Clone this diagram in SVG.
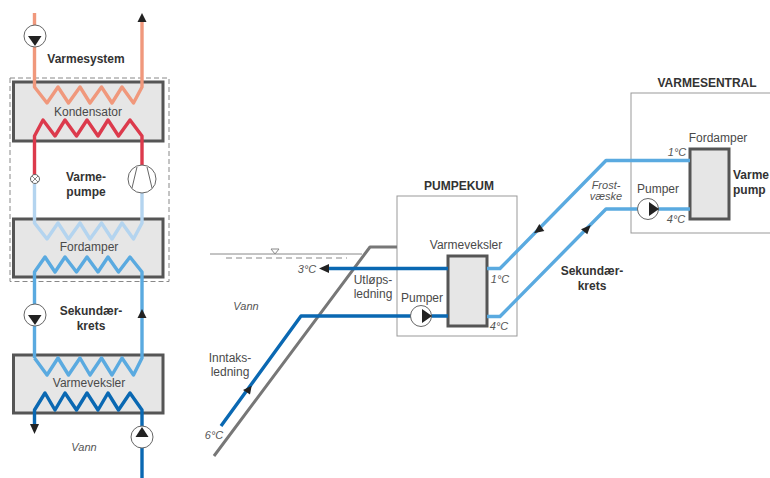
<svg xmlns="http://www.w3.org/2000/svg" width="770" height="478" viewBox="0 0 770 478">
<style>
text{font-family:"Liberation Sans",Arial,sans-serif;font-size:12px;fill:#4a4a4a}
.c{text-anchor:middle}
.b{font-weight:bold;fill:#333}
.i{font-style:italic;font-size:11px;fill:#555}
.hx{fill:#e6e6e6;stroke:#555;stroke-width:3}
.room{fill:#fff;stroke:#999;stroke-width:1}
.p{fill:none;stroke-width:3.4;stroke-linejoin:round}
.salmon{stroke:#f0987c}.red{stroke:#dc3a4c}.pale{stroke:#b4d4ef}.sky{stroke:#5aaae0}.deep{stroke:#0a68b2}
.gray{fill:none;stroke:#777;stroke-width:3;stroke-linejoin:round}
.pc{fill:#fff;stroke:#666;stroke-width:1}
.ah{fill:#222}
</style>
<rect width="770" height="478" fill="#fff"/>
<g id="varmepumpe-frame"><rect x="10" y="78" width="159" height="203.500" fill="none" stroke="#888" stroke-width="1" stroke-dasharray="5 3"/></g>
<g id="pumpekum"><rect class="room" x="397" y="196" width="120" height="140"/><text class="b c" x="459" y="190">PUMPEKUM</text></g>
<g id="varmesentral"><rect class="room" x="631" y="93" width="145" height="140"/><text class="b c" x="707" y="87">VARMESENTRAL</text></g>
<g id="kondensator"><rect class="hx" x="13.500" y="82" width="149.500" height="59"/><text class="c" x="88" y="116">Kondensator</text></g>
<g id="fordamper-a"><rect class="hx" x="13.500" y="219" width="149.500" height="58"/><text class="c" x="89" y="251">Fordamper</text></g>
<g id="varmeveksler-a"><rect class="hx" x="13.500" y="355" width="149.500" height="58"/><text class="c" x="89" y="387">Varmeveksler</text></g>
<g id="varmeveksler-b"><rect class="hx" x="448" y="256" width="39" height="70"/><text class="c" x="466" y="249">Varmeveksler</text></g>
<g id="fordamper-b"><rect class="hx" x="690" y="149" width="39" height="70"/><text class="c" x="718" y="142">Fordamper</text></g>
<g id="connectors">
<path class="p salmon" d="M34.500 13V87L47 103 58 87 68.500 103 80 87 90 103 101.500 87 112 103 122 87 133.500 103 142 87V20"/>
<path class="p red" d="M34.500 175V136L43 120 55 136 65 120 76.500 136 87 120 98 136 108 120 118.500 136 130 120 142 136V165"/>
<path class="p pale" d="M34.500 184V223L47 239 58 223 68.500 239 80 223 90 239 101.500 223 112 239 122 223 133.500 239 142 223V193"/>
<path class="p sky" d="M34.500 358V272L45 257 55 272 65 257 76.500 272 87 257 98 272 108 257 118.500 272 130 257 142 272V358L133.500 375 122 358 112 375 101.500 358 90 375 80 358 68.500 375 58 358 47 375 34.500 358"/>
<path class="p deep" d="M34.500 425V410L45 393 55 410 65 393 76.500 410 87 393 98 410 108 393 118.500 410 130 393 142 410V478"/>
<path class="gray" d="M214 456 370 247H397"/>
<path class="p deep" d="M325 268.500H448"/>
<path class="p deep" d="M221 426 301 316H448"/>
<path class="p sky" d="M487 268.500H500L606 160.500H690"/>
<path class="p sky" d="M487 316.500H500L606 209H690"/>
<path fill="none" stroke="#888" stroke-width="1" d="M210 254H362"/>
<path fill="none" stroke="#888" stroke-width="1" stroke-dasharray="6 4" d="M226 258H347"/>
<path fill="#fff" stroke="#888" stroke-width="1" d="M271 249H279L275 254Z"/>
<path class="ah" d="M142 13 146.500 22H137.500Z"/>
<path class="ah" d="M142 309 146.500 318H137.500Z"/>
<path class="ah" d="M34.500 434 30 424H39Z"/>
<path class="ah" d="M319 268.500 329 264V273Z"/>
<path class="ah" d="M251.700 385.700 243 390 250 394.500Z"/>
<path class="ah" d="M534 233.300 544.300 231 539.300 224Z"/>
<path class="ah" d="M590.700 225 581 229.300 587.300 234.300Z"/>
</g>
<g id="pump-1"><circle class="pc" cx="35" cy="36" r="11"/><path class="ah" d="M35 46 28 36H41.500Z"/></g>
<g id="pump-2"><circle class="pc" cx="35" cy="315" r="11"/><path class="ah" d="M35 325 28 315H41.500Z"/></g>
<g id="pump-3"><circle class="pc" cx="142" cy="437" r="11"/><path class="ah" d="M142 427 148.500 437H135.500Z"/></g>
<g id="pump-4"><circle class="pc" cx="421" cy="316" r="10.500"/><path class="ah" d="M432 316 422 309V323Z"/></g>
<g id="pump-5"><circle class="pc" cx="648" cy="209" r="10.500"/><path class="ah" d="M659 209 649 202V216Z"/></g>
<g id="valve"><circle class="pc" cx="35" cy="179" r="4.500"/><path fill="none" stroke="#666" stroke-width="0.800" d="M32 176 38 182M38 176 32 182"/></g>
<g id="compressor"><circle class="pc" cx="142" cy="179" r="14"/><path fill="none" stroke="#666" stroke-width="1" d="M137 167 132 188M147 167 152 188"/></g>
<g id="labels">
<text class="b c" x="86" y="63">Varmesystem</text>
<text class="b c" x="86" y="181">Varme-</text><text class="b c" x="86" y="196">pumpe</text>
<text class="b c" x="91" y="315">Sekundær-</text><text class="b c" x="91" y="330">krets</text>
<text class="i c" x="84" y="451">Vann</text>
<text class="i c" x="246" y="310">Vann</text>
<text class="c" x="230" y="362">Inntaks-</text><text class="c" x="230" y="376">ledning</text>
<text class="i c" x="214" y="439">6°C</text>
<text class="i c" x="307" y="273">3°C</text>
<text class="c" x="373" y="284">Utløps-</text><text class="c" x="373" y="298">ledning</text>
<text class="c" x="422" y="302">Pumper</text>
<text class="i c" x="500" y="283">1°C</text>
<text class="i c" x="499" y="330">4°C</text>
<text class="i c" x="606" y="189">Frost-</text><text class="i c" x="606" y="200">væske</text>
<text class="b c" x="592" y="275">Sekundær-</text><text class="b c" x="592" y="290">krets</text>
<text class="c" x="658" y="193">Pumper</text>
<text class="i c" x="677" y="156">1°C</text>
<text class="i c" x="676" y="223">4°C</text>
<text class="b" x="733" y="179">Varme</text><text class="b" x="733" y="194">pump</text>
</g>
</svg>
